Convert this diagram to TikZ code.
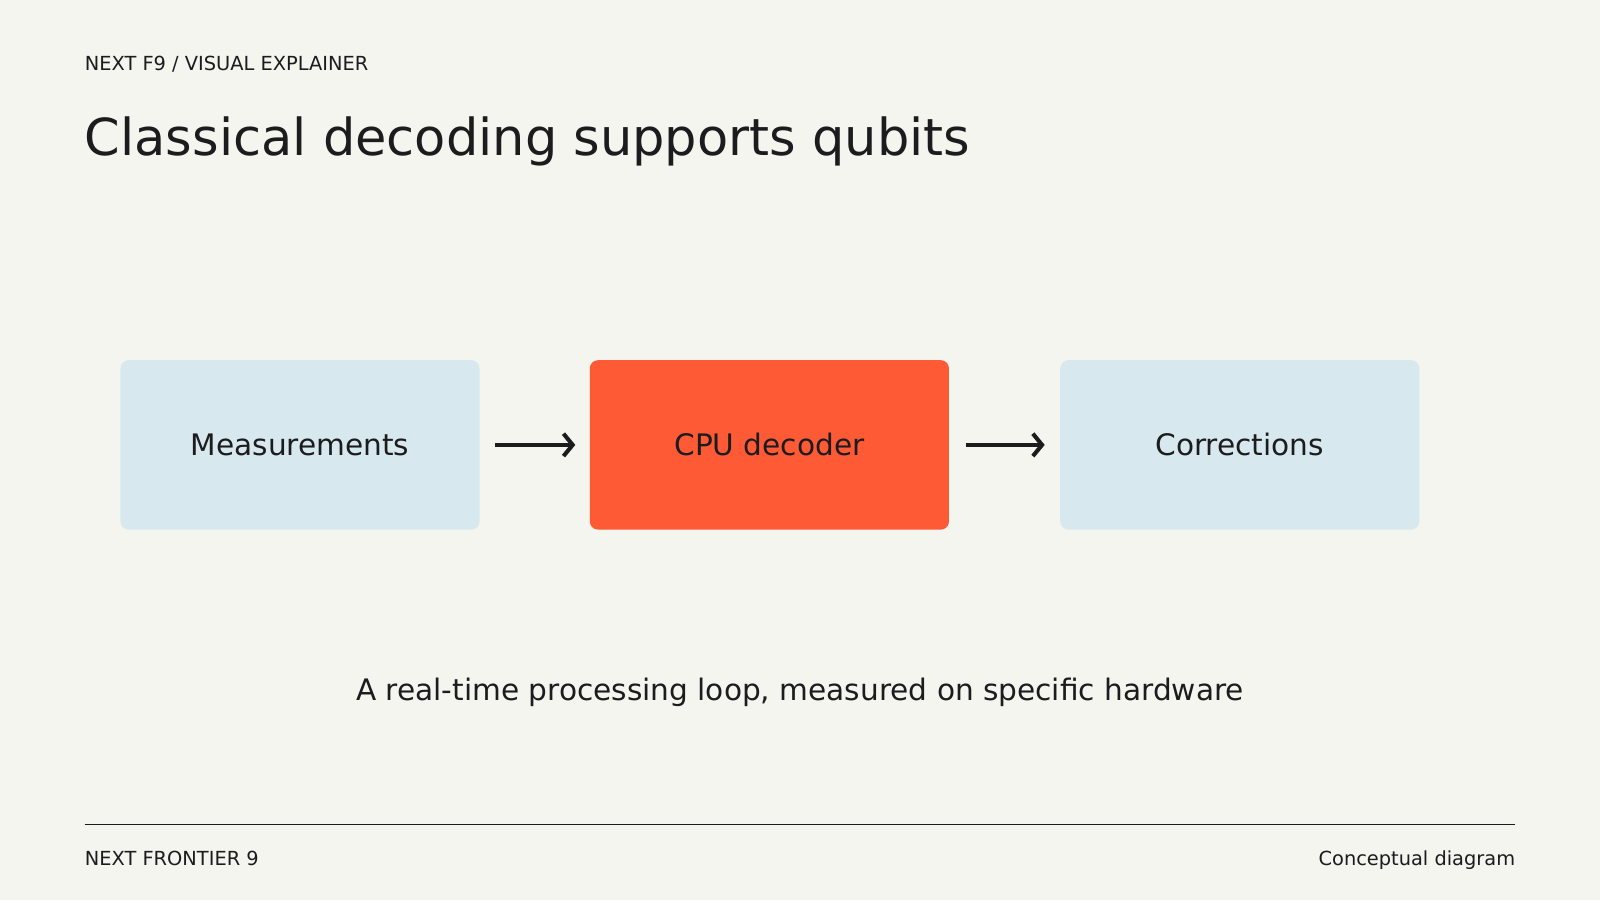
\documentclass[tikz,border=0pt]{standalone}
\usepackage{fontspec}
\setmainfont{DejaVu Sans}
\usetikzlibrary{arrows.meta}
\definecolor{bg}{HTML}{F4F5EF}
\definecolor{ink}{HTML}{1C1C1E}
\definecolor{pale}{HTML}{D8E8EF}
\definecolor{hot}{HTML}{FF5A36}
\begin{document}
\begin{tikzpicture}[x=1pt,y=-1pt,
  box/.style={rounded corners=8pt,minimum width=352pt,minimum height=166pt,inner sep=0pt,font=\fontsize{29}{34}\selectfont,text=ink},
  arr/.style={draw=ink,line width=4pt,-{Straight Barb[length=9pt,width=22pt,line width=4pt]}},
  lab/.style={text=ink,inner sep=0pt}]
\fill[bg] (0,0) rectangle (1568,882);
\useasboundingbox (0,0) rectangle (1568,882);
\node[lab,anchor=base west,font=\fontsize{19}{22}\selectfont] (hdr) at (83,69) {NEXT F9 / VISUAL EXPLAINER};
\node[lab,anchor=base west,font=\fontsize{50}{58}\selectfont] (title) at (83,152) {Classical decoding supports qubits};
\node[box,fill=pale] (m) at (294,436) {Measurements};
\node[box,fill=hot] (c) at (754,436) {CPU decoder};
\node[box,fill=pale] (r) at (1215,436) {Corrections};
\draw[arr,shorten <=15pt,shorten >=14pt] (m.east) -- (c.west);
\draw[arr,shorten <=16pt,shorten >=15pt] (c.east) -- (r.west);
\node[lab,anchor=base,font=\fontsize{29}{34}\selectfont] (sub) at (784,686) {A real-time processing loop, measured on specific hardware};
\coordinate (l1) at (83,808);
\coordinate (l2) at (1485,808);
\draw[ink,line width=1.8pt] (l1) -- (l2);
\node[lab,anchor=base west,font=\fontsize{19}{22}\selectfont] (f1) at (83,848) {NEXT FRONTIER 9};
\node[lab,anchor=base east,font=\fontsize{19}{22}\selectfont] (f2) at (1485,848) {Conceptual diagram};
\end{tikzpicture}
\end{document}
